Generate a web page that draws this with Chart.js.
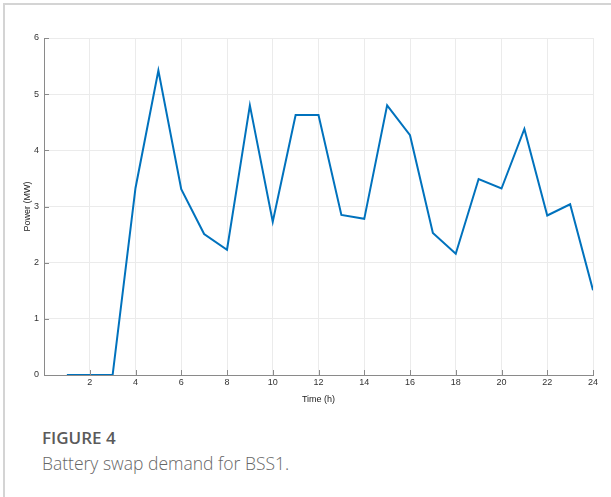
<!DOCTYPE html>
<html>
<head>
<meta charset="utf-8">
<script src="https://cdn.jsdelivr.net/npm/chart.js@4.4.0/dist/chart.umd.min.js"></script>
<style>
  html, body { margin: 0; padding: 0; background: #fff; }
  body { width: 611px; height: 497px; position: relative; overflow: hidden; }
  #frame {
    position: absolute; left: 3px; top: 3px; width: 620px; height: 520px;
    border-top: 2px solid #d4d4d4; border-left: 2px solid #d4d4d4;
  }
  #wrap { position: absolute; left: 0; top: 0; width: 611px; height: 405px; }
  #cap1 {
    position: absolute; left: 42px; top: 426px;
    font-family: "Open Sans", "Noto Sans", sans-serif; font-weight: 600;
    font-size: 17px; color: #5a5a5a;
  }
  #cap2 {
    position: absolute; left: 42px; top: 451px;
    font-family: "Open Sans", "Noto Sans", sans-serif; font-weight: 300;
    font-size: 17.5px; color: #666;
  }
</style>
</head>
<body>
<div id="frame"></div>
<div id="wrap"><canvas id="myChart" width="611" height="405"></canvas></div>
<div id="cap1">FIGURE 4</div>
<div id="cap2">Battery swap demand for BSS1.</div>
<script>
// hours and demand
const hours = [1, 2, 3, 4, 5, 6, 7, 8, 9, 10, 11, 12, 13, 14, 15, 16, 17, 18, 19, 20, 21, 22, 23, 24];
const power = [0, 0, 0, 3.33, 5.42, 3.31, 2.51, 2.23, 4.80, 2.73, 4.63, 4.63, 2.85, 2.78, 4.80, 4.27, 2.53, 2.16, 3.49, 3.32, 4.38, 2.84, 3.04, 1.51];
const xTicks = [2, 4, 6, 8, 10, 12, 14, 16, 18, 20, 22, 24];
const yTicks = [0, 1, 2, 3, 4, 5, 6];

const axisColor = '#8a8a8a';
const tickFont = { family: 'Liberation Sans, Arial, sans-serif', size: 9 };

// MATLAB style: ticks drawn inwards
const inwardTicks = {
    id: 'inwardTicks',
    afterDatasetsDraw(chart) {
        const ctx = chart.ctx;
        const xs = chart.scales.x, ys = chart.scales.y;
        const area = chart.chartArea;
        ctx.save();
        ctx.strokeStyle = axisColor;
        ctx.lineWidth = 1;
        ctx.beginPath();
        xTicks.forEach(v => {
            const px = Math.round(xs.getPixelForValue(v)) + 0.5;
            ctx.moveTo(px, area.bottom);
            ctx.lineTo(px, area.bottom - 5);
        });
        yTicks.forEach(v => {
            const py = Math.round(ys.getPixelForValue(v)) + 0.5;
            ctx.moveTo(area.left, py);
            ctx.lineTo(area.left + 5, py);
        });
        ctx.stroke();
        ctx.restore();
    }
};

var ctx = document.getElementById('myChart').getContext('2d');
var myChart = new Chart(ctx, {
    type: 'line',
    data: {
        datasets: [{
            data: hours.map((h, i) => ({ x: h, y: power[i] })),
            borderColor: 'rgb(0, 114, 189)',
            borderWidth: 2,
            pointRadius: 0,
            fill: false,
            tension: 0
        }]
    },
    options: {
        responsive: false,
        animation: false,
        layout: { padding: { left: 22, top: 38, right: 18, bottom: 0 } },
        plugins: {
            legend: { display: false },
            tooltip: { enabled: false }
        },
        scales: {
            x: {
                type: 'linear',
                min: 0,
                max: 24,
                afterBuildTicks: scale => { scale.ticks = xTicks.map(v => ({ value: v })); },
                afterFit: scale => { scale.height = 30; },
                ticks: {
                    color: '#333',
                    font: tickFont,
                    padding: 2,
                    maxRotation: 0
                },
                grid: { color: '#ebebeb', drawTicks: false },
                border: { color: axisColor, width: 1 },
                title: {
                    display: true,
                    text: 'Time (h)',
                    color: '#222',
                    font: tickFont,
                    padding: { top: 0, bottom: 0 }
                }
            },
            y: {
                min: 0,
                max: 6,
                afterBuildTicks: scale => { scale.ticks = yTicks.map(v => ({ value: v })); },
                afterFit: scale => { scale.width = 22; },
                ticks: {
                    color: '#333',
                    font: tickFont,
                    padding: 5
                },
                grid: { color: '#ebebeb', drawTicks: false },
                border: { color: axisColor, width: 1 },
                title: {
                    display: true,
                    text: 'Power (MW)',
                    color: '#222',
                    font: tickFont,
                    padding: { top: 0, bottom: 0 }
                }
            }
        }
    },
    plugins: [inwardTicks]
});
</script>
</body>
</html>
